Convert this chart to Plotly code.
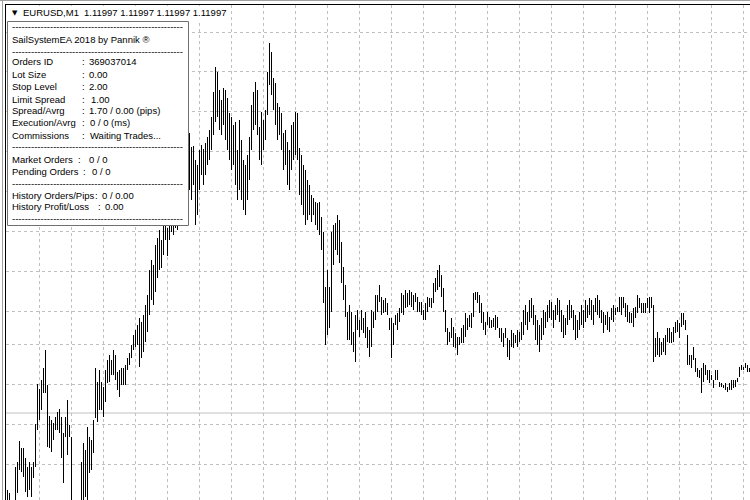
import plotly.graph_objects as go

# ---------------- data (EURUSD M1, bar highs / lows) ----------------
BAR_HIGH = [
    1.11920, 1.11917, 1.11910, 1.11905, 1.11943, 1.11948, 1.11969, 1.11962, 1.11962, 1.11952, 1.11943, 1.11948, 1.11943, 1.11948, 1.11986, 1.12026,
    1.12021, 1.12030, 1.12042, 1.12060, 1.12025, 1.11994, 1.11990, 1.11987, 1.11993, 1.11998, 1.12001, 1.11993, 1.11977, 1.11993, 1.12010, 1.11985,
    1.11973, 1.11905, 1.11905, 1.11905, 1.11908, 1.11948, 1.11967, 1.11960, 1.11983, 1.11973, 1.11970, 1.11990, 1.12042, 1.12028, 1.12040, 1.12028,
    1.12023, 1.12040, 1.12050, 1.12055, 1.12050, 1.12060, 1.12055, 1.12038, 1.12040, 1.12042, 1.12042, 1.12045, 1.12052, 1.12057, 1.12065, 1.12075,
    1.12080, 1.12085, 1.12092, 1.12088, 1.12095, 1.12105, 1.12115, 1.12140, 1.12150, 1.12145, 1.12165, 1.12172, 1.12180, 1.12170, 1.12188, 1.12195,
    1.12182, 1.12200, 1.12205, 1.12210, 1.12215, 1.12220, 1.12230, 1.12240, 1.12245, 1.12250, 1.12260, 1.12277, 1.12263, 1.12264, 1.12250, 1.12245,
    1.12260, 1.12265, 1.12261, 1.12267, 1.12273, 1.12280, 1.12293, 1.12318, 1.12343, 1.12338, 1.12320, 1.12310, 1.12322, 1.12320, 1.12312, 1.12297,
    1.12293, 1.12285, 1.12288, 1.12260, 1.12290, 1.12270, 1.12250, 1.12245, 1.12255, 1.12273, 1.12305, 1.12318, 1.12328, 1.12320, 1.12283, 1.12298,
    1.12290, 1.12300, 1.12338, 1.12367, 1.12358, 1.12332, 1.12327, 1.12307, 1.12303, 1.12297, 1.12277, 1.12280, 1.12268, 1.12260, 1.12285, 1.12288,
    1.12298, 1.12297, 1.12262, 1.12255, 1.12245, 1.12240, 1.12230, 1.12225, 1.12215, 1.12212, 1.12208, 1.12207, 1.12208, 1.12193, 1.12178, 1.12123,
    1.12140, 1.12123, 1.12178, 1.12185, 1.12187, 1.12195, 1.12190, 1.12168, 1.12143, 1.12125, 1.12098, 1.12105, 1.12098, 1.12078, 1.12095, 1.12100,
    1.12090, 1.12100, 1.12092, 1.12098, 1.12083, 1.12080, 1.12100, 1.12098, 1.12115, 1.12115, 1.12125, 1.12113, 1.12110, 1.12112, 1.12107, 1.12092,
    1.12092, 1.12087, 1.12095, 1.12097, 1.12102, 1.12117, 1.12115, 1.12120, 1.12117, 1.12120, 1.12118, 1.12115, 1.12117, 1.12113, 1.12108, 1.12108,
    1.12100, 1.12107, 1.12113, 1.12112, 1.12112, 1.12127, 1.12132, 1.12140, 1.12145, 1.12135, 1.12122, 1.12100, 1.12082, 1.12078, 1.12092, 1.12083,
    1.12077, 1.12073, 1.12073, 1.12082, 1.12085, 1.12097, 1.12092, 1.12095, 1.12097, 1.12117, 1.12118, 1.12118, 1.12115, 1.12107, 1.12098, 1.12088,
    1.12098, 1.12093, 1.12090, 1.12092, 1.12095, 1.12093, 1.12082, 1.12082, 1.12077, 1.12082, 1.12072, 1.12070, 1.12080, 1.12077, 1.12075, 1.12080,
    1.12078, 1.12088, 1.12100, 1.12105, 1.12098, 1.12110, 1.12112, 1.12105, 1.12095, 1.12090, 1.12085, 1.12092, 1.12100, 1.12098, 1.12105, 1.12110,
    1.12108, 1.12100, 1.12105, 1.12112, 1.12110, 1.12100, 1.12095, 1.12092, 1.12105, 1.12110, 1.12105, 1.12100, 1.12095, 1.12090, 1.12098, 1.12105,
    1.12100, 1.12110, 1.12105, 1.12112, 1.12110, 1.12105, 1.12112, 1.12115, 1.12110, 1.12100, 1.12098, 1.12095, 1.12098, 1.12093, 1.12102, 1.12105,
    1.12102, 1.12103, 1.12113, 1.12113, 1.12113, 1.12107, 1.12105, 1.12098, 1.12097, 1.12102, 1.12103, 1.12115, 1.12112, 1.12107, 1.12107, 1.12107,
    1.12112, 1.12113, 1.12113, 1.12105, 1.12072, 1.12078, 1.12072, 1.12068, 1.12072, 1.12075, 1.12082, 1.12082, 1.12078, 1.12083, 1.12088, 1.12090,
    1.12087, 1.12097, 1.12097, 1.12090, 1.12075, 1.12055, 1.12055, 1.12063, 1.12052, 1.12042, 1.12040, 1.12042, 1.12047, 1.12045, 1.12040, 1.12040,
    1.12035, 1.12030, 1.12040, 1.12040, 1.12028, 1.12027, 1.12025, 1.12027, 1.12023, 1.12027, 1.12030, 1.12030, 1.12030, 1.12032, 1.12043, 1.12045,
    1.12043, 1.12047, 1.12045, 1.12042,
]
BAR_LOW = [
    1.11900, 1.11895, 1.11890, 1.11890, 1.11905, 1.11917, 1.11940, 1.11938, 1.11933, 1.11918, 1.11913, 1.11920, 1.11913, 1.11932, 1.11943, 1.11980,
    1.11990, 1.12000, 1.12017, 1.12017, 1.11963, 1.11962, 1.11958, 1.11970, 1.11980, 1.11980, 1.11977, 1.11952, 1.11927, 1.11973, 1.11955, 1.11973,
    1.11900, 1.11890, 1.11885, 1.11885, 1.11890, 1.11905, 1.11905, 1.11913, 1.11905, 1.11937, 1.11940, 1.11957, 1.11992, 1.11988, 1.12000, 1.12000,
    1.11993, 1.12008, 1.12027, 1.12028, 1.12035, 1.12035, 1.12030, 1.12020, 1.12013, 1.12025, 1.12025, 1.12025, 1.12040, 1.12045, 1.12052, 1.12060,
    1.12063, 1.12065, 1.12043, 1.12052, 1.12058, 1.12068, 1.12078, 1.12095, 1.12110, 1.12105, 1.12118, 1.12132, 1.12140, 1.12142, 1.12155, 1.12170,
    1.12154, 1.12170, 1.12178, 1.12175, 1.12182, 1.12180, 1.12190, 1.12195, 1.12205, 1.12210, 1.12215, 1.12220, 1.12210, 1.12225, 1.12185, 1.12195,
    1.12220, 1.12235, 1.12225, 1.12235, 1.12245, 1.12250, 1.12260, 1.12275, 1.12288, 1.12293, 1.12280, 1.12275, 1.12285, 1.12270, 1.12260, 1.12250,
    1.12240, 1.12245, 1.12225, 1.12210, 1.12220, 1.12210, 1.12200, 1.12195, 1.12210, 1.12230, 1.12260, 1.12280, 1.12285, 1.12275, 1.12250, 1.12245,
    1.12260, 1.12270, 1.12295, 1.12325, 1.12315, 1.12300, 1.12285, 1.12270, 1.12275, 1.12260, 1.12240, 1.12245, 1.12225, 1.12220, 1.12240, 1.12250,
    1.12255, 1.12250, 1.12215, 1.12205, 1.12195, 1.12185, 1.12190, 1.12195, 1.12188, 1.12195, 1.12185, 1.12180, 1.12175, 1.12160, 1.12107, 1.12065,
    1.12075, 1.12082, 1.12098, 1.12145, 1.12160, 1.12155, 1.12147, 1.12127, 1.12110, 1.12093, 1.12070, 1.12070, 1.12065, 1.12058, 1.12048, 1.12080,
    1.12073, 1.12080, 1.12077, 1.12072, 1.12062, 1.12053, 1.12063, 1.12082, 1.12090, 1.12098, 1.12108, 1.12095, 1.12097, 1.12098, 1.12095, 1.12080,
    1.12052, 1.12065, 1.12085, 1.12080, 1.12088, 1.12097, 1.12095, 1.12102, 1.12103, 1.12105, 1.12103, 1.12100, 1.12108, 1.12098, 1.12098, 1.12095,
    1.12090, 1.12090, 1.12098, 1.12103, 1.12102, 1.12107, 1.12118, 1.12120, 1.12123, 1.12113, 1.12098, 1.12078, 1.12065, 1.12068, 1.12072, 1.12063,
    1.12062, 1.12055, 1.12065, 1.12067, 1.12067, 1.12073, 1.12080, 1.12083, 1.12082, 1.12093, 1.12110, 1.12107, 1.12097, 1.12087, 1.12080, 1.12075,
    1.12085, 1.12082, 1.12082, 1.12083, 1.12080, 1.12082, 1.12072, 1.12068, 1.12063, 1.12072, 1.12053, 1.12050, 1.12063, 1.12062, 1.12067, 1.12063,
    1.12068, 1.12070, 1.12075, 1.12085, 1.12080, 1.12088, 1.12092, 1.12085, 1.12070, 1.12065, 1.12058, 1.12070, 1.12075, 1.12082, 1.12088, 1.12092,
    1.12090, 1.12082, 1.12090, 1.12095, 1.12088, 1.12078, 1.12072, 1.12075, 1.12085, 1.12090, 1.12092, 1.12080, 1.12070, 1.12072, 1.12080, 1.12085,
    1.12082, 1.12088, 1.12092, 1.12095, 1.12090, 1.12085, 1.12098, 1.12095, 1.12092, 1.12087, 1.12077, 1.12085, 1.12080, 1.12078, 1.12090, 1.12088,
    1.12095, 1.12098, 1.12098, 1.12095, 1.12102, 1.12093, 1.12088, 1.12087, 1.12087, 1.12083, 1.12092, 1.12097, 1.12102, 1.12097, 1.12097, 1.12097,
    1.12102, 1.12097, 1.12102, 1.12048, 1.12053, 1.12055, 1.12053, 1.12055, 1.12058, 1.12055, 1.12068, 1.12067, 1.12067, 1.12068, 1.12077, 1.12078,
    1.12072, 1.12083, 1.12085, 1.12080, 1.12045, 1.12045, 1.12042, 1.12050, 1.12038, 1.12033, 1.12032, 1.12017, 1.12028, 1.12035, 1.12030, 1.12027,
    1.12030, 1.12022, 1.12030, 1.12030, 1.12023, 1.12023, 1.12022, 1.12020, 1.12018, 1.12020, 1.12020, 1.12022, 1.12023, 1.12028, 1.12033, 1.12040,
    1.12040, 1.12042, 1.12038, 1.12038,
]
BID_PRICE = 1.11997
GRID_PRICES = [1.11946, 1.11986, 1.12026, 1.12066, 1.12099, 1.12139, 1.12179,
               1.12219, 1.12259, 1.12299, 1.12339, 1.12378]
GRID_BARS = list(range(16, 372, 16))
PRICE_RANGE = [1.11910, 1.12405]

SYMBOL = "EURUSD,M1"
HEADER_PRICES = "1.11997 1.11997 1.11997 1.11997"
PANEL_TITLE = "SailSystemEA 2018 by Pannik \u00ae"
PANEL_ROWS = [
    ("Orders ID", "369037014"),
    ("Lot Size", "0.00"),
    ("Stop Level", "2.00"),
    ("Limit Spread", "1.00"),
    ("Spread/Avrg", "1.70 / 0.00 (pips)"),
    ("Execution/Avrg", "0 / 0 (ms)"),
    ("Commissions", "Waiting Trades..."),
    ("Market Orders", "0 / 0"),
    ("Pending Orders", "0 / 0"),
    ("History Orders/Pips", "0 / 0.00"),
    ("History Profit/Loss", "0.00"),
]

# ---------------- layout helpers (pixel placement) ----------------
W, H = 750, 500
ML, MT = 6, 5
PW, PH = W - ML, H - MT


def px(x):
    return (x - ML) / PW


def py(y):
    return (H - y) / PH


FONT = "Liberation Sans, Arial, sans-serif"
FS = 9.5

# bars as vertical high-low segments
xs, ys = [], []
for i, (hi, lo) in enumerate(zip(BAR_HIGH, BAR_LOW)):
    xs += [i, i, None]
    ys += [lo, hi, None]

fig = go.Figure()
fig.add_trace(go.Scatter(x=xs, y=ys, mode="lines",
                         line=dict(color="#000000", width=1),
                         hoverinfo="skip", showlegend=False))

shapes = []
# bid line
shapes.append(dict(type="line", xref="paper", yref="y", x0=0, x1=1,
                   y0=BID_PRICE, y1=BID_PRICE, layer="between",
                   line=dict(color="#c0c0c0", width=1)))
# header background
shapes.append(dict(type="rect", xref="paper", yref="paper",
                   x0=px(7), x1=px(228), y0=py(21), y1=py(6), layer="above",
                   fillcolor="#ffffff", line=dict(width=0)))
# info panel
shapes.append(dict(type="rect", xref="paper", yref="paper",
                   x0=px(7.5), x1=px(188.5), y0=py(225.5), y1=py(21.5), layer="above",
                   fillcolor="#ffffff", line=dict(color="#707070", width=1)))
# window frame lines
shapes.append(dict(type="line", xref="paper", yref="paper",
                   x0=px(0), x1=px(750), y0=py(0.5), y1=py(0.5),
                   line=dict(color="#a0a0a0", width=1)))
shapes.append(dict(type="line", xref="paper", yref="paper",
                   x0=px(2.5), x1=px(2.5), y0=py(0), y1=py(500),
                   line=dict(color="#a0a0a0", width=1)))

ann = []


def txt(x, y, s, size=FS, family=FONT, color="#000000"):
    ann.append(dict(xref="paper", yref="paper", x=px(x), y=py(y),
                    xanchor="left", yanchor="middle", text=s, showarrow=False,
                    borderpad=0, font=dict(family=family, size=size, color=color)))


# header
txt(11, 13, "\u25bc", size=7, family="DejaVu Sans, sans-serif")
txt(22, 13, SYMBOL)
txt(83, 13, HEADER_PRICES)

DASHES = "-" * 54
txt(11, 26, DASHES)
txt(11, 39, PANEL_TITLE)
txt(11, 52, DASHES)

row_y = [62, 74, 87, 99, 110, 123, 135, 159, 171, 195, 207]
colon_x = [81, 81, 81, 81, 81, 81, 81, 77, 82, 94, 97]
value_x = [88, 88, 88, 90, 88, 89, 89, 88, 91, 101, 104]
for (lab, val), y, cx, vx in zip(PANEL_ROWS, row_y, colon_x, value_x):
    txt(11, y, lab)
    txt(cx, y, ":")
    txt(vx, y, val)
txt(11, 147, DASHES)
txt(11, 183, DASHES)
txt(11, 218, DASHES)

fig.update_layout(
    width=W, height=H, autosize=False,
    margin=dict(l=ML, r=0, t=MT, b=0, pad=0),
    paper_bgcolor="#ffffff", plot_bgcolor="#ffffff",
    showlegend=False, hovermode=False,
    shapes=shapes, annotations=ann,
    xaxis=dict(range=[-0.75, len(BAR_HIGH) - 0.75], side="top",
               tickvals=GRID_BARS, showticklabels=False, ticks="",
               showgrid=True, gridcolor="#c0c0c0", gridwidth=1, griddash="3px,3px",
               zeroline=False, showline=True, linecolor="#000000", linewidth=1,
               fixedrange=True),
    yaxis=dict(range=PRICE_RANGE, tickvals=GRID_PRICES, showticklabels=False,
               ticks="", showgrid=True, gridcolor="#c0c0c0", gridwidth=1,
               griddash="3px,3px", zeroline=False, showline=True,
               linecolor="#000000", linewidth=1, fixedrange=True),
)

fig.write_html("out.html", config={"displayModeBar": False},
               post_script="document.body.style.margin='0';document.body.style.overflow='hidden';")
